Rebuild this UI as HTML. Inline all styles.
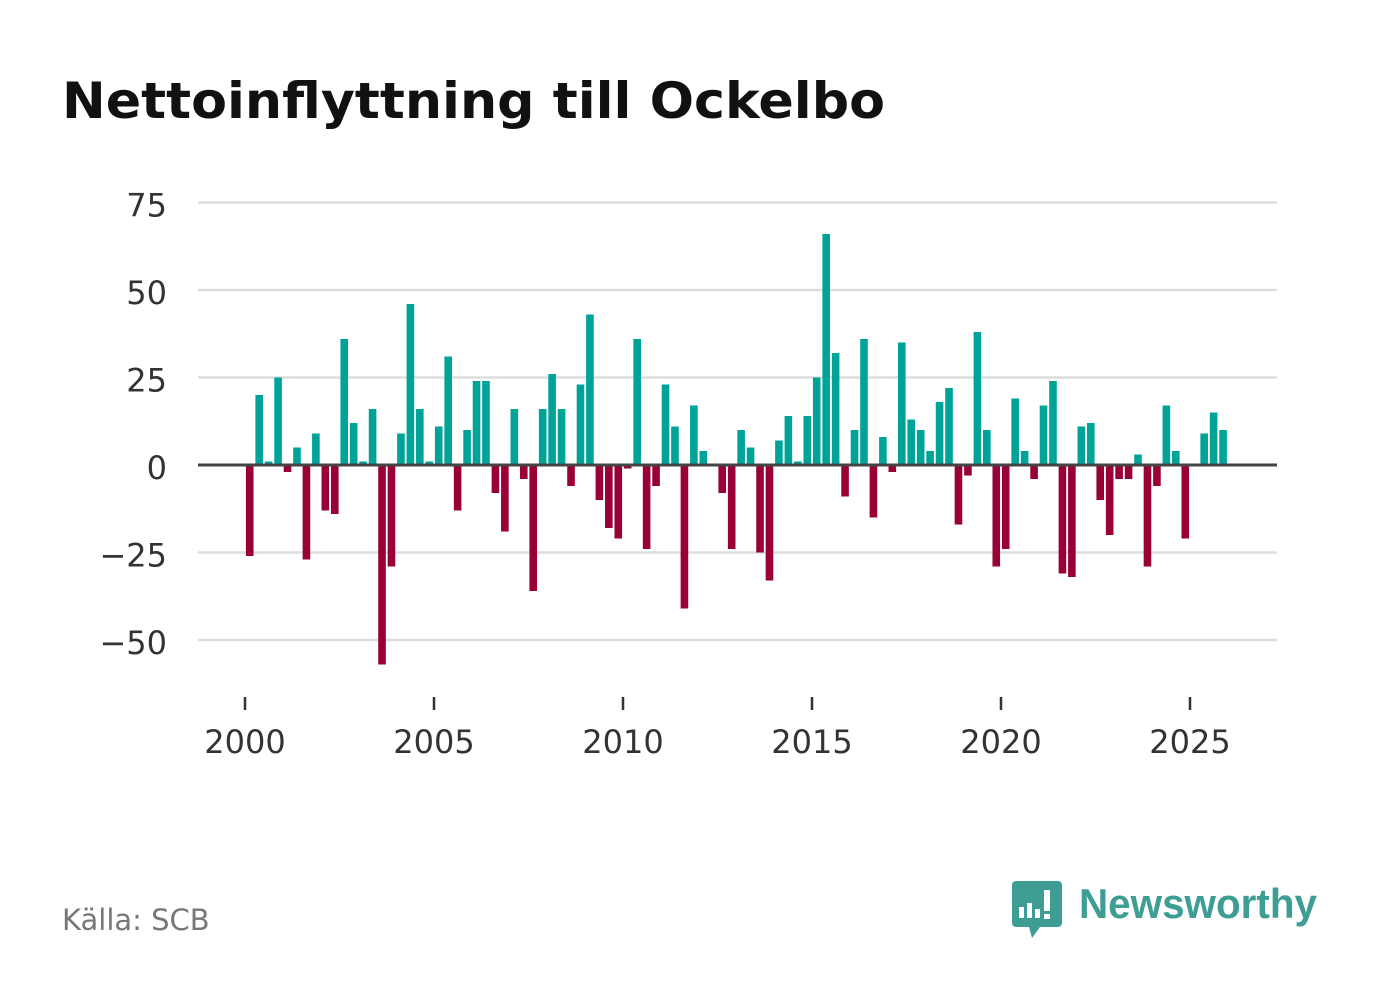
<!DOCTYPE html>
<html><head><meta charset="utf-8"><style>
html,body{margin:0;padding:0;background:#fff;}
svg{display:block;font-family:"DejaVu Sans","Liberation Sans",sans-serif;}
</style></head><body>
<svg id="chart" width="1382" height="999" viewBox="0 0 1382 999">
<text x="62" y="118" font-size="50" font-weight="bold" fill="#111" textLength="823" lengthAdjust="spacingAndGlyphs">Nettoinflyttning till Ockelbo</text>
<g id="grid"></g>
<g id="bars"></g>
<g id="xaxis"></g>
<text x="62" y="930" font-size="29" fill="#777">Källa: SCB</text>
<g>
<path d="M1016 881 h42 a4 4 0 0 1 4 4 v38 a4 4 0 0 1 -4 4 h-18 l-8 11 l-3 -11 h-13 a4 4 0 0 1 -4 -4 v-38 a4 4 0 0 1 4 -4z" fill="#3f9e93"/>
<rect x="1019" y="907" width="5" height="11" fill="#fff"/>
<rect x="1027" y="903" width="5" height="15" fill="#fff"/>
<rect x="1035" y="909" width="5" height="9" fill="#fff"/>
<rect x="1044" y="890" width="6" height="21" fill="#fff"/>
<rect x="1044" y="914" width="6" height="5" fill="#fff"/>
<text x="1079" y="918" font-size="42" font-weight="bold" fill="#3f9e93" textLength="238" lengthAdjust="spacingAndGlyphs" font-family="Liberation Sans, sans-serif">Newsworthy</text>
</g>
</svg>
<script>
const years = [2000, 2005, 2010, 2015, 2020, 2025];
const yTicks = [75, 50, 25, 0, -25, -50];
const yTickLabels = ["75", "50", "25", "0", "\u221225", "\u221250"];
const values = [-26,20,1,25,-2,5,-27,9,-13,-14,36,12,1,16,-57,-29,9,46,16,1,11,31,-13,10,24,24,-8,-19,16,-4,-36,16,26,16,-6,23,43,-10,-18,-21,-1,36,-24,-6,23,11,-41,17,4,0,-8,-24,10,5,-25,-33,7,14,1,14,25,66,32,-9,10,36,-15,8,-2,35,13,10,4,18,22,-17,-3,38,10,-29,-24,19,4,-4,17,24,-31,-32,11,12,-10,-20,-4,-4,3,-29,-6,17,4,-21,0,9,15,10];
const startYear = 2000;

const NS = "http://www.w3.org/2000/svg";
function xs(t){ return 245 + (t - 2000) * 37.8; }
function ys(v){ return 465 - v * 3.5; }
function mk(tag, attrs, parent){ const e = document.createElementNS(NS, tag); for (const k in attrs) e.setAttribute(k, attrs[k]); parent.appendChild(e); return e; }

const grid = document.getElementById('grid');
yTicks.forEach((v, i) => {
  if (v !== 0) {
    const l = mk('line', {x1:198, x2:1277, y1:ys(v), y2:ys(v), stroke:'#dddddd', 'stroke-width':2.5}, grid);
    
    
  }
  const t = mk('text', {x:167, y:ys(v)+14, 'font-size':32, fill:'#333', 'text-anchor':'end'}, grid);
  t.textContent = yTickLabels[i];
  
  
});

const bars = document.getElementById('bars');
values.forEach((v, i) => {
  const cx = xs(startYear + i * 0.25 + 0.125);
  const y0 = ys(0), y1 = ys(v);
  const r = mk('rect', {x:cx-3.8, y:Math.min(y0,y1), width:7.6, height:Math.max(Math.abs(y1-y0),0.5), fill: v >= 0 ? '#00a398' : '#9a0038'}, bars);
  
  
});
const zl = mk('line', {x1:198, x2:1277, y1:ys(0), y2:ys(0), stroke:'#444', 'stroke-width':3}, bars);



const xa = document.getElementById('xaxis');
years.forEach(yr => {
  const tk = mk('line', {x1:xs(yr), x2:xs(yr), y1:697, y2:710, stroke:'#333', 'stroke-width':2.5}, xa);
  
  
  const t = mk('text', {x:xs(yr), y:753, 'font-size':32, fill:'#333', 'text-anchor':'middle'}, xa);
  t.textContent = yr;
  
  
});
</script>
</body></html>
